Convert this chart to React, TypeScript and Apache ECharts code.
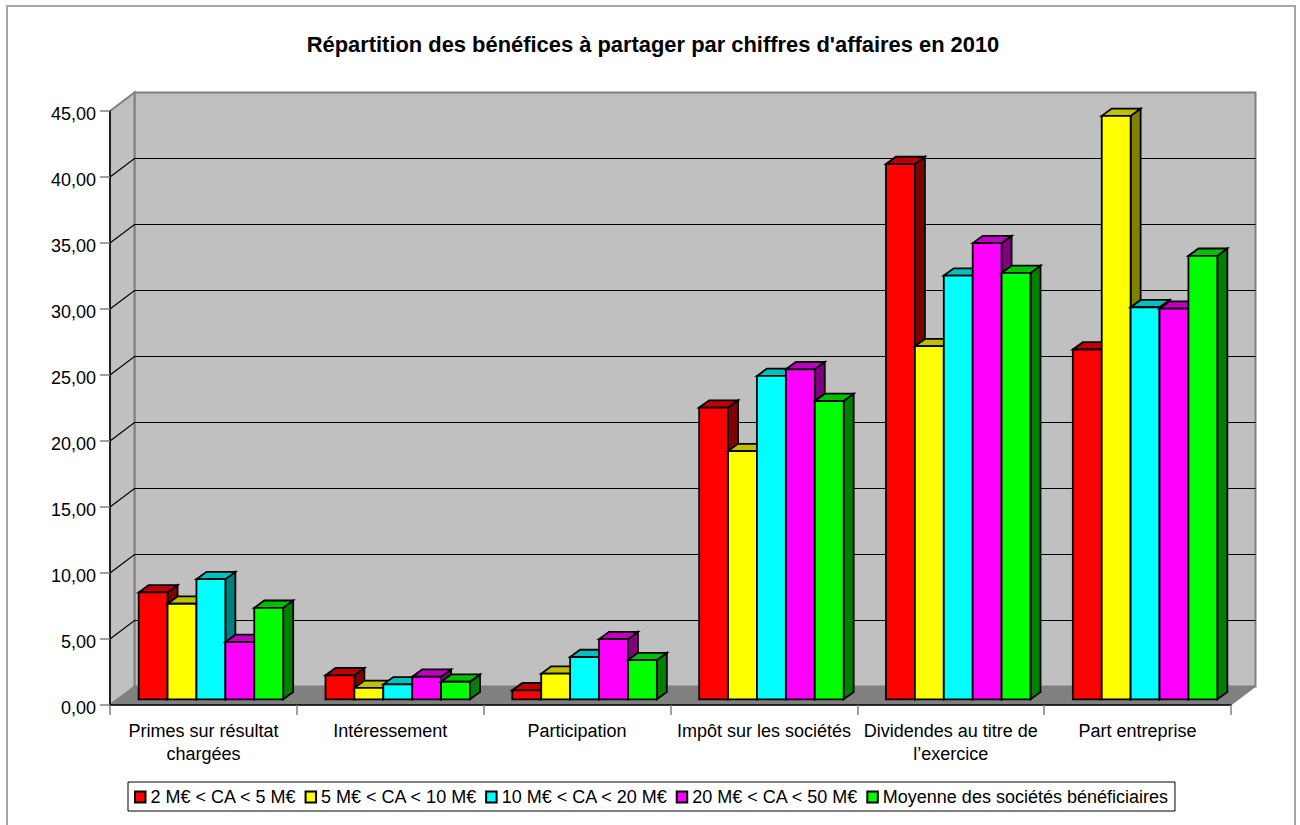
import React, { useEffect, useRef } from "react";
import * as echarts from "echarts";

const titleText = "Répartition des bénéfices à partager par chiffres d'affaires en 2010";
const categories = [
  "Primes sur résultat\nchargées",
  "Intéressement",
  "Participation",
  "Impôt sur les sociétés",
  "Dividendes au titre de\nl’exercice",
  "Part entreprise",
];
const yTicks = [5, 10, 15, 20, 25, 30, 35, 40];
const seriesNames = [
  "2 M€ < CA < 5 M€",
  "5 M€ < CA < 10 M€",
  "10 M€ < CA < 20 M€",
  "20 M€ < CA < 50 M€",
  "Moyenne des sociétés bénéficiaires",
];
const s1 = [8.1, 1.82, 0.68, 22.1, 40.55, 26.5];
const s2 = [7.24, 0.86, 1.94, 18.8, 26.75, 44.2];
const s3 = [9.1, 1.13, 3.2, 24.5, 32.1, 29.7];
const s4 = [4.34, 1.71, 4.56, 25.0, 34.56, 29.6];
const s5 = [6.93, 1.33, 2.97, 22.6, 32.3, 33.6];
const allValues = [s1, s2, s3, s4, s5];

const frontColors = ["#ff0000", "#ffff00", "#00ffff", "#ff00ff", "#00ff00"];
const topColors = ["#c00000", "#c0c000", "#00c0c0", "#c000c0", "#00c000"];
const sideColors = ["#800000", "#808000", "#008080", "#800080", "#008000"];

const FONT = "'Liberation Sans', Arial, sans-serif";
const WALL_DX = 24.5;
const WALL_DY = -18.5;
const BAR_OX = 7.5;
const BAR_OY = -5.7;
const BAR_DX = 10;
const BAR_DY = -7.3;
const BAR_FRACTION = 0.1547;
const BAR_STROKE = 1.8;

const poly = (points: number[][], fill: string, stroke: string, lineWidth: number) => ({
  type: "polygon",
  silent: true,
  shape: { points },
  style: { fill, stroke, lineWidth, lineJoin: "miter" },
});

export default function App() {
  const ref = useRef<HTMLDivElement>(null);
  useEffect(() => {
    const chart = echarts.init(ref.current!, undefined, { renderer: "svg" });

    const wallsSeries = {
      type: "custom",
      name: "walls",
      coordinateSystem: "cartesian2d",
      z: 1,
      silent: true,
      data: [[0, 0]],
      renderItem: (params: any) => {
        const c = params.coordSys;
        const x0 = c.x;
        const x1 = c.x + c.width;
        const yT = c.y;
        const yB = c.y + c.height;
        return {
          type: "group",
          children: [
            poly(
              [[x0 + WALL_DX, yT + WALL_DY], [x1 + WALL_DX, yT + WALL_DY], [x1 + WALL_DX, yB + WALL_DY], [x0 + WALL_DX, yB + WALL_DY]],
              "#c0c0c0", "#808080", 2
            ),
            poly(
              [[x0, yT], [x0 + WALL_DX, yT + WALL_DY], [x0 + WALL_DX, yB + WALL_DY], [x0, yB]],
              "#c0c0c0", "#808080", 2
            ),
            poly(
              [[x0, yB], [x1, yB], [x1 + WALL_DX, yB + WALL_DY], [x0 + WALL_DX, yB + WALL_DY]],
              "#808080", "#808080", 1
            ),
          ],
        };
      },
    };

    const gridSeries = {
      type: "custom",
      name: "grid",
      coordinateSystem: "cartesian2d",
      z: 1,
      silent: true,
      data: yTicks.map((v) => [0, v]),
      renderItem: (params: any, api: any) => {
        const c = params.coordSys;
        const y = api.coord([0, api.value(1)])[1];
        return {
          type: "polyline",
          silent: true,
          shape: {
            points: [
              [c.x, y],
              [c.x + WALL_DX, y + WALL_DY],
              [c.x + c.width + WALL_DX, y + WALL_DY],
            ],
          },
          style: { fill: "none", stroke: "#000000", lineWidth: 1.2 },
        };
      },
    };

    const barSeries = seriesNames.map((name, si) => ({
      type: "custom",
      name,
      coordinateSystem: "cartesian2d",
      z: 2,
      silent: true,
      itemStyle: { color: frontColors[si], borderColor: "#000000", borderWidth: 1.5 },
      data: allValues[si].map((v, i) => [i, v]),
      renderItem: (_params: any, api: any) => {
        const i = api.value(0);
        const v = api.value(1);
        const top = api.coord([i, v]);
        const base = api.coord([i, 0]);
        const bw = api.size([1, 0])[0];
        const w = bw * BAR_FRACTION;
        const left = top[0] - 2.5 * w + si * w + BAR_OX;
        const right = left + w;
        const yT = top[1] + BAR_OY;
        const yB = base[1] + BAR_OY;
        return {
          type: "group",
          children: [
            poly(
              [[right, yT], [right + BAR_DX, yT + BAR_DY], [right + BAR_DX, yB + BAR_DY], [right, yB]],
              sideColors[si], "#000000", BAR_STROKE
            ),
            poly(
              [[left, yT], [left + BAR_DX, yT + BAR_DY], [right + BAR_DX, yT + BAR_DY], [right, yT]],
              topColors[si], "#000000", BAR_STROKE
            ),
            poly([[left, yT], [right, yT], [right, yB], [left, yB]], frontColors[si], "#000000", BAR_STROKE),
          ],
        };
      },
    }));

    chart.setOption({
      animation: false,
      backgroundColor: "#ffffff",
      textStyle: { fontFamily: FONT },
      title: {
        text: titleText,
        left: 648,
        top: 28,
        textAlign: "center",
        textStyle: { fontFamily: FONT, fontSize: 21.9, fontWeight: "bold", color: "#000000" },
      },
      graphic: [
        {
          type: "rect",
          silent: true,
          z: -10,
          shape: { x: 7, y: 6, width: 1288, height: 900 },
          style: { fill: "none", stroke: "#a6a6a6", lineWidth: 2 },
        },
      ],
      legend: {
        show: true,
        data: seriesNames,
        left: 128,
        top: 782,
        padding: [6, 7, 5, 6],
        icon: "rect",
        itemWidth: 10.5,
        itemHeight: 11,
        itemGap: 8,
        backgroundColor: "#ffffff",
        borderColor: "#000000",
        borderWidth: 1,
        selectedMode: false,
        textStyle: { fontFamily: FONT, fontSize: 18, color: "#000000" },
      },
      grid: { left: 110, top: 111, width: 1121, height: 594, containLabel: false },
      xAxis: {
        type: "category",
        data: categories,
        z: 3,
        boundaryGap: true,
        axisLine: { show: true, lineStyle: { color: "#000000", width: 1.5 } },
        axisTick: { show: true, length: 10, alignWithLabel: false, lineStyle: { color: "#808080", width: 1.5 } },
        axisLabel: {
          interval: 0,
          margin: 14,
          fontFamily: FONT,
          fontSize: 18,
          lineHeight: 23,
          color: "#000000",
        },
      },
      yAxis: {
        type: "value",
        min: 0,
        max: 45,
        interval: 5,
        z: 3,
        axisLine: { show: true, lineStyle: { color: "#000000", width: 1.5 } },
        axisTick: { show: true, length: 10, lineStyle: { color: "#808080", width: 1.5 } },
        splitLine: { show: false },
        axisLabel: {
          margin: 14,
          fontFamily: FONT,
          fontSize: 18,
          color: "#000000",
          formatter: (v: number) => "{v|" + v.toFixed(2).replace(".", ",") + "}",
          rich: {
            v: { fontFamily: FONT, fontSize: 18, color: "#000000", padding: [5, 0, 0, 0] },
          },
        },
      },
      series: [wallsSeries, gridSeries, ...barSeries],
    });
    return () => chart.dispose();
  }, []);
  return (
    <div
      ref={ref}
      style={{ position: "absolute", left: 0, top: 0, width: 1300, height: 825 }}
    />
  );
}
